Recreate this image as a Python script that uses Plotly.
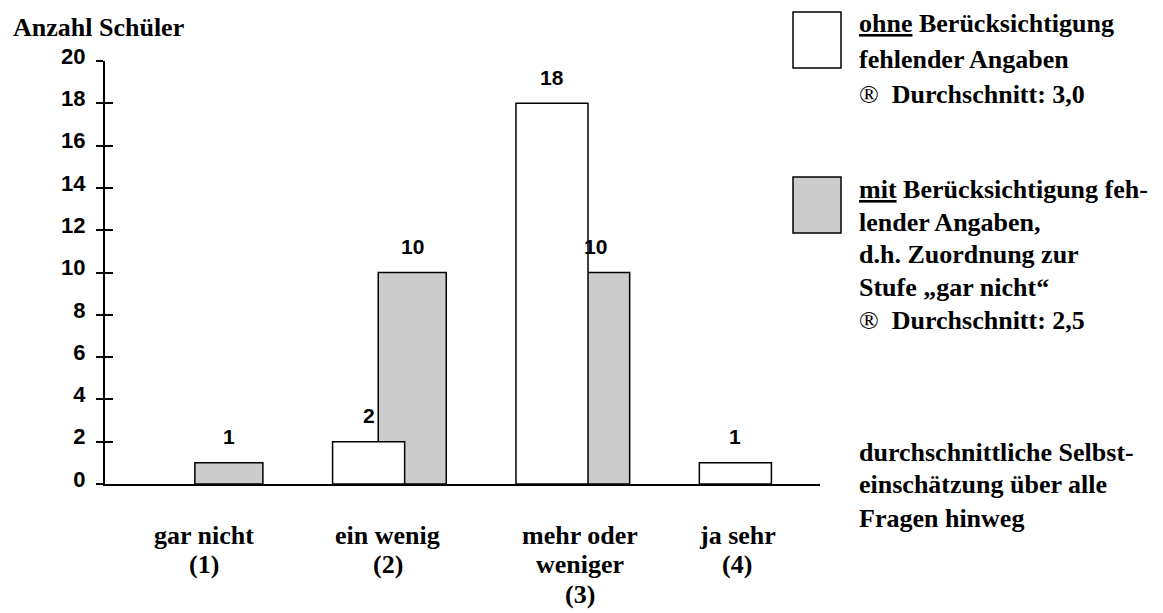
import plotly.graph_objects as go

# --- data ---------------------------------------------------------------
categories = ["gar nicht<br>(1)", "ein wenig<br>(2)", "mehr oder<br>weniger<br>(3)", "ja sehr<br>(4)"]
ohne_values = [0, 2, 18, 1]    # ohne Berücksichtigung fehlender Angaben
mit_values = [1, 10, 10, 0]    # mit Berücksichtigung fehlender Angaben
y_ticks = [0, 2, 4, 6, 8, 10, 12, 14, 16, 18, 20]

# --- geometry / style ---------------------------------------------------
W, H = 1163, 613
ML, MR, MT, MB = 105, 343, 61, 129
PW, PH = W - ML - MR, H - MT - MB

x_pos = list(range(1, len(categories) + 1))
X_RANGE = [0.470, 4.369]
WHITE_OFFSET, WHITE_WIDTH = -0.289, 0.393
GREY_OFFSET, GREY_WIDTH = -0.040, 0.371
GREY = "#cccccc"

SERIF = "Liberation Serif"
SANS = "Liberation Sans"
CAT_FIRST_LINE_PX = 535   # vertical centre of the first category label line
CAT_LINE_STEP_PX = 29.5
CAT_LABEL_NUDGE = [2, 2, 11, -15]   # small horizontal alignment tweaks (px)


def px_x(px):
    return (px - ML) / PW


def px_y(py):
    return (H - MB - py) / PH


def nonzero(vals):
    return [v if v else None for v in vals]


fig = go.Figure()

# grey series first so that the white bars overlap it
fig.add_trace(go.Bar(
    x=x_pos, y=nonzero(mit_values), offset=GREY_OFFSET, width=GREY_WIDTH,
    marker=dict(color=GREY, line=dict(color="black", width=1.5)),
    showlegend=False, hoverinfo="skip",
))
fig.add_trace(go.Bar(
    x=x_pos, y=nonzero(ohne_values), offset=WHITE_OFFSET, width=WHITE_WIDTH,
    marker=dict(color="white", line=dict(color="black", width=1.5)),
    showlegend=False, hoverinfo="skip",
))
# carrier trace for the axis that draws the inner tick marks
fig.add_trace(go.Scatter(x=[None], y=[None], yaxis="y2", showlegend=False,
                         hoverinfo="skip"))

annotations = []

# value labels above the bars
for vals, off, wid in ((ohne_values, WHITE_OFFSET, WHITE_WIDTH),
                       (mit_values, GREY_OFFSET, GREY_WIDTH)):
    for k, v in zip(x_pos, vals):
        if v:
            annotations.append(dict(
                x=k + off + wid / 2, y=v, xref="x", yref="y",
                text=f"<b>{v}</b>", showarrow=False, yanchor="middle", yshift=26,
                font=dict(family=SANS, size=21, color="black"),
            ))

# category labels under the axis, one line at a time
for k, label, nudge in zip(x_pos, categories, CAT_LABEL_NUDGE):
    for i, line in enumerate(label.split("<br>")):
        annotations.append(dict(
            x=k, y=px_y(CAT_FIRST_LINE_PX + i * CAT_LINE_STEP_PX),
            xref="x", yref="paper", xanchor="center", yanchor="middle",
            xshift=nudge, showarrow=False, text=f"<b>{line}</b>",
            borderpad=0,
            font=dict(family=SERIF, size=26, color="black"),
        ))

# axis title
annotations.append(dict(
    x=px_x(11), y=px_y(27.5), xref="paper", yref="paper",
    xanchor="left", yanchor="middle", showarrow=False,
    text="<b>Anzahl Schüler</b>",
    font=dict(family=SERIF, size=26, color="black"),
))

# explanatory legend text
legend_lines = [
    ("<b><u>ohne</u> Berücksichtigung</b>", 24),
    ("<b>fehlender Angaben</b>", 59),
    ("®\u00a0\u00a0<b>Durchschnitt: 3,0</b>", 94),
    ("<b><u>mit</u> Berücksichtigung feh-</b>", 189),
    ("<b>lender Angaben,</b>", 222),
    ("<b>d.h. Zuordnung zur</b>", 254),
    ("<b>Stufe „gar nicht“</b>", 287),
    ("®\u00a0\u00a0<b>Durchschnitt: 2,5</b>", 320),
    ("<b>durchschnittliche Selbst-</b>", 452),
    ("<b>einschätzung über alle</b>", 485),
    ("<b>Fragen hinweg</b>", 518),
]
for text, py in legend_lines:
    annotations.append(dict(
        x=px_x(857), y=px_y(py), xref="paper", yref="paper",
        xanchor="left", yanchor="middle", showarrow=False, text=text,
        font=dict(family=SERIF, size=26, color="black"),
    ))

shapes = [
    dict(type="rect", xref="paper", yref="paper",
         x0=px_x(793), x1=px_x(841), y0=px_y(68), y1=px_y(12),
         fillcolor="white", line=dict(color="black", width=1.5)),
    dict(type="rect", xref="paper", yref="paper",
         x0=px_x(793), x1=px_x(841), y0=px_y(233), y1=px_y(177),
         fillcolor=GREY, line=dict(color="black", width=1.5)),
]

fig.update_layout(
    width=W, height=H,
    margin=dict(l=ML, r=MR, t=MT, b=MB, pad=0, autoexpand=False),
    paper_bgcolor="white", plot_bgcolor="white",
    barmode="overlay",
    showlegend=False,
    xaxis=dict(
        range=X_RANGE, showticklabels=False,
        ticks="", showgrid=False, zeroline=False, automargin=False,
        showline=True, linecolor="black", linewidth=1.5,
    ),
    yaxis=dict(
        range=[0, 20], tickvals=y_ticks, ticktext=[f"<b>{t}</b>" for t in y_ticks],
        ticks="outside", ticklen=7, tickwidth=1.5, tickcolor="black",
        showgrid=False, zeroline=False, automargin=False,
        showline=True, linecolor="black", linewidth=2,
        tickfont=dict(family=SANS, size=22, color="black"),
        ticklabelstandoff=6, ticklabelshift=-5,
    ),
    yaxis2=dict(
        overlaying="y", anchor="x", side="left", range=[0, 20],
        tickvals=y_ticks[1:], ticks="inside", ticklen=8, tickwidth=1.5,
        tickcolor="black", showticklabels=False, showgrid=False,
        zeroline=False, showline=False, automargin=False,
    ),
    annotations=annotations,
    shapes=shapes,
)

fig.write_html("out.html")
